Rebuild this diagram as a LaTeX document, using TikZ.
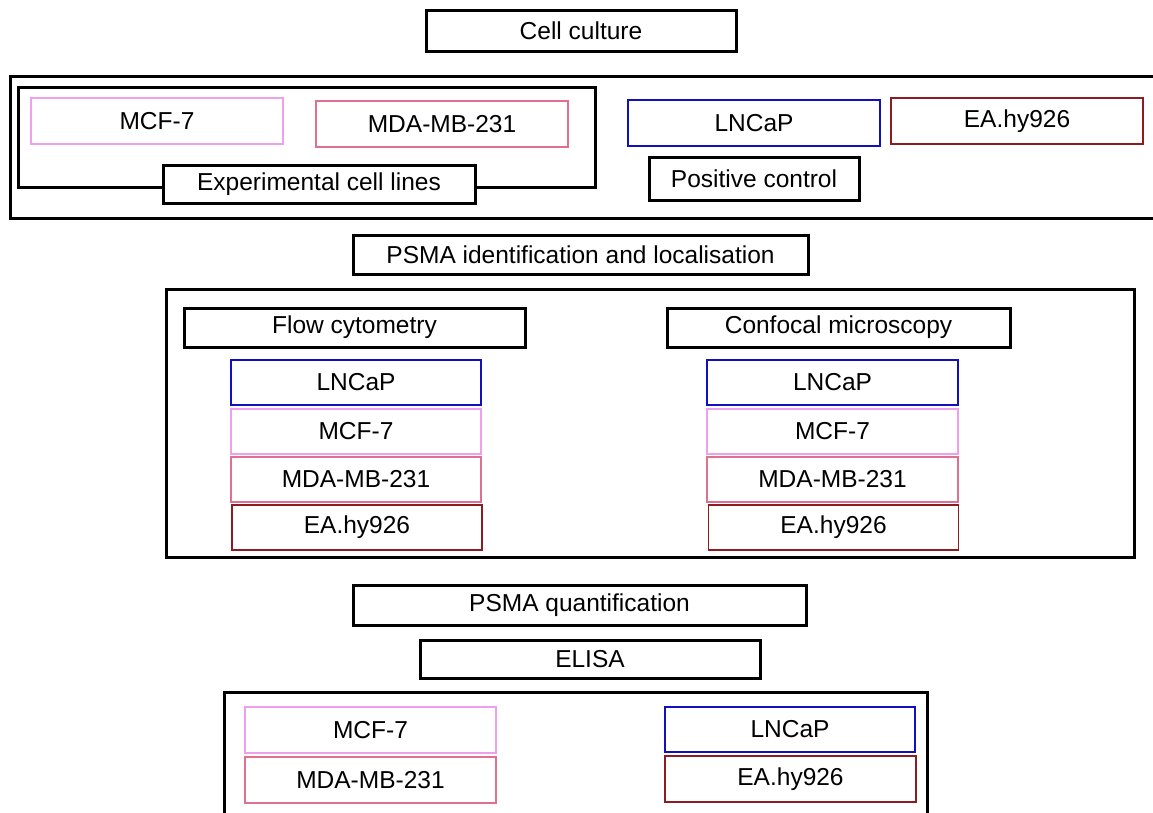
\documentclass[tikz,border=0pt]{standalone}
\usepackage{fontspec}
\setmainfont{Liberation Sans}
\begin{document}
\begin{tikzpicture}[x=1pt,y=-1pt,
  bx/.style={draw=black,line width=3pt,fill=white,inner sep=0pt,font=\fontsize{24.5}{28}\selectfont},
  cl/.style={draw,line width=1.8pt,fill=white,inner sep=0pt,font=\fontsize{24.5}{28}\selectfont},
  mcf/.style={cl,draw=mcfc},
  mda/.style={cl,draw=mdac},
  lnc/.style={cl,draw=lncc},
  eah/.style={cl,draw=eahc},
]
\definecolor{mcfc}{HTML}{EEA0EE}
\definecolor{mdac}{HTML}{E07090}
\definecolor{lncc}{HTML}{1010C0}
\definecolor{eahc}{HTML}{8E1A22}
\useasboundingbox (0,0) rectangle (1153,812);
% top
\node[bx,minimum width=310pt,minimum height=41pt] (cc) at (581,30.5) {Cell culture};
\node[bx,minimum width=1150pt,minimum height=142pt] (outer1) at (585,147) {};
\node[bx,minimum width=577pt,minimum height=100pt] (expbox) at (306.5,137) {};
\node[mcf,minimum width=252pt,minimum height=46pt] (t1) at (157,121) {MCF-7};
\node[mda,minimum width=252pt,minimum height=46pt] (t2) at (442,124) {MDA-MB-231};
\node[bx,minimum width=312pt,minimum height=38pt] (explab) at (319,184) {Experimental cell lines};
\node[lnc,minimum width=252pt,minimum height=46pt] (t3) at (754,123) {LNCaP};
\node[eah,minimum width=252pt,minimum height=46pt] (t4) at (1017,121) {EA.hy926};
\node[bx,minimum width=210pt,minimum height=43pt] (pos) at (754,178.5) {Positive control};
% middle
\node[bx,minimum width=455pt,minimum height=39pt] (psid) at (580.5,254.5) {PSMA identification and localisation};
\node[bx,minimum width=968pt,minimum height=268pt] (box2) at (650,423) {};
\node[bx,minimum width=341pt,minimum height=39pt] (flow) at (354.5,327.5) {Flow cytometry};
\node[bx,minimum width=343pt,minimum height=39pt] (conf) at (838.5,327.5) {Confocal microscopy};
\node[lnc,minimum width=250pt,minimum height=45pt] (f1) at (356,382.5) {LNCaP};
\node[mcf,minimum width=250pt,minimum height=45pt] (f2) at (356,431.5) {MCF-7};
\node[mda,minimum width=250pt,minimum height=45pt] (f3) at (356,479.5) {MDA-MB-231};
\node[eah,minimum width=250pt,minimum height=45pt] (f4) at (357,527.5) {EA.hy926};
\node[lnc,minimum width=251pt,minimum height=45pt] (c1) at (832.5,382.5) {LNCaP};
\node[mcf,minimum width=251pt,minimum height=45pt] (c2) at (832.5,431.5) {MCF-7};
\node[mda,minimum width=251pt,minimum height=45pt] (c3) at (832.5,479.5) {MDA-MB-231};
\node[eah,minimum width=250pt,minimum height=45pt] (c4) at (833.5,527.5) {EA.hy926};
% bottom
\node[bx,minimum width=453pt,minimum height=40pt] (psq) at (579.5,605) {PSMA quantification};
\node[bx,minimum width=340pt,minimum height=38pt] (elisa) at (590,659) {ELISA};
\node[bx,minimum width=703pt,minimum height=138pt] (box3) at (575.5,761) {};
\node[mcf,minimum width=251pt,minimum height=46pt] (e1) at (370.5,730) {MCF-7};
\node[mda,minimum width=251pt,minimum height=46pt] (e2) at (370.5,780) {MDA-MB-231};
\node[lnc,minimum width=250pt,minimum height=45pt] (e3) at (790,729.5) {LNCaP};
\node[eah,minimum width=251pt,minimum height=46pt] (e4) at (790.5,779) {EA.hy926};
\end{tikzpicture}
\end{document}
